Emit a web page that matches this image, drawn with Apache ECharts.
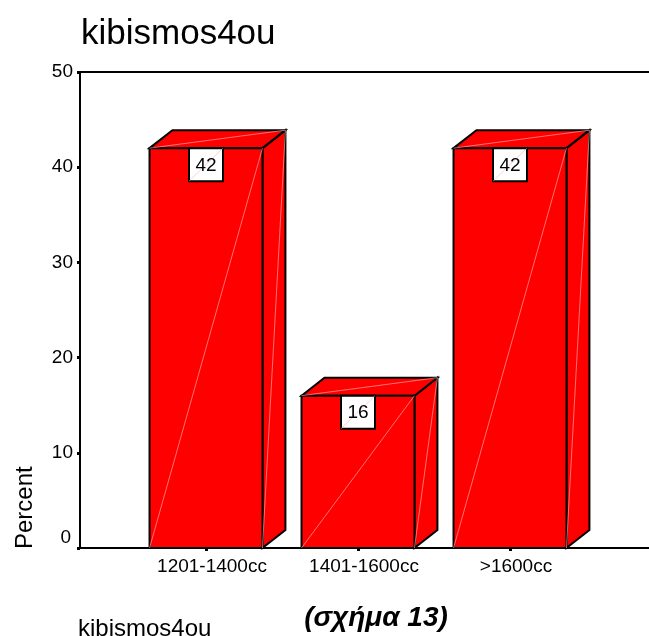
<!DOCTYPE html>
<html>
<head>
<meta charset="utf-8">
<script src="https://cdn.jsdelivr.net/npm/echarts@6/dist/echarts.min.js"></script>
<style>
  html, body { margin: 0; padding: 0; background: #fff; }
  #chart { width: 649px; height: 636px; }
</style>
</head>
<body>
<div id="chart"></div>
<script>
// Engine size groups and the share of cars in each (percent)
var categories = ['1201-1400cc', '1401-1600cc', '>1600cc'];
var percents = [42, 16, 42];
var yTicks = [0, 10, 20, 30, 40, 50];

var FONT = 'Liberation Sans, Arial, sans-serif';
var chart = echarts.init(document.getElementById('chart'), null, { renderer: 'canvas' });

// Draws one extruded bar: front face, top face, side face, value box.
function renderBar(params, api) {
  var idx = api.value(0);
  var val = api.value(1);
  var top = api.coord([idx, val]);
  var base = api.coord([idx, 0]);
  var band = api.size([1, 0])[0];
  var w = band * 0.743;
  var dx = band * 0.151;
  var dy = 18;
  var x0 = top[0] - w / 2, x1 = top[0] + w / 2;
  var yt = top[1], yb = base[1];
  var edge = { fill: '#ff0000', stroke: '#000', lineWidth: 2, lineJoin: 'miter' };
  var faint = { stroke: 'rgba(255,190,190,0.75)', lineWidth: 0.8, fill: null };
  var boxW = 34, boxH = 33;
  return {
    type: 'group',
    children: [
      { type: 'polygon', shape: { points: [[x1, yt], [x1 + dx, yt - dy], [x1 + dx, yb - dy], [x1, yb]] }, style: edge },
      { type: 'polygon', shape: { points: [[x0, yt], [x0 + dx, yt - dy], [x1 + dx, yt - dy], [x1, yt]] }, style: edge },
      { type: 'rect', shape: { x: x0, y: yt, width: w, height: yb - yt }, style: edge },
      { type: 'line', shape: { x1: x0, y1: yb, x2: x1, y2: yt }, style: faint },
      { type: 'line', shape: { x1: x1, y1: yb, x2: x1 + dx, y2: yt - dy }, style: faint },
      { type: 'line', shape: { x1: x0, y1: yt, x2: x1 + dx, y2: yt - dy }, style: faint },
      { type: 'rect', shape: { x: top[0] - boxW / 2, y: yt, width: boxW, height: boxH },
        style: { fill: '#fff', stroke: '#000', lineWidth: 2 } },
      { type: 'line', shape: { x1: top[0] - boxW / 2, y1: yt + boxH, x2: top[0] + boxW / 2, y2: yt },
        style: { stroke: 'rgba(255,170,170,0.7)', lineWidth: 0.8 } },
      { type: 'text', style: { x: top[0], y: yt + boxH / 2 + 1, text: String(val), fill: '#000',
        font: '19px ' + FONT, align: 'center', verticalAlign: 'middle' } }
    ]
  };
}

var option = {
  animation: false,
  backgroundColor: '#fff',
  title: {
    text: 'kibismos4ou', left: 76, top: 12,
    textStyle: { fontFamily: FONT, fontSize: 35, fontWeight: 'normal', color: '#000' }
  },
  grid: [
    { left: 130, right: 63, top: 72, bottom: 88 },
    { left: 80, right: 0, top: 72, bottom: 88 }
  ],
  xAxis: [
    {
      gridIndex: 0, type: 'category', data: categories,
      axisLine: { show: false },
      axisTick: { show: true, alignWithLabel: true, length: 3, lineStyle: { color: '#000', width: 3 } },
      axisLabel: { color: '#000', fontFamily: FONT, fontSize: 19, margin: 9, padding: [0, 0, 0, 12] }
    },
    {
      gridIndex: 1, type: 'value', min: 0, max: 1, position: 'bottom',
      axisLine: { show: true, lineStyle: { color: '#000', width: 2 } },
      axisTick: { show: false }, axisLabel: { show: false }, splitLine: { show: false }
    },
    {
      gridIndex: 1, type: 'value', min: 0, max: 1, position: 'top',
      axisLine: { show: true, lineStyle: { color: '#000', width: 2 } },
      axisTick: { show: false }, axisLabel: { show: false }, splitLine: { show: false }
    }
  ],
  yAxis: [
    { gridIndex: 0, type: 'value', min: 0, max: 50, show: false },
    {
      gridIndex: 1, type: 'value', min: yTicks[0], max: yTicks[yTicks.length - 1], interval: 10,
      axisLine: { show: true, lineStyle: { color: '#000', width: 2 } },
      axisTick: { show: true, length: 3, lineStyle: { color: '#000', width: 3 } },
      axisLabel: {
        color: '#000', fontFamily: FONT, fontSize: 19, margin: 7,
        // the zero label sits a little above its tick
        formatter: function (v) { return v === 0 ? '{z|0}' : String(v); },
        rich: { z: { color: '#000', fontFamily: FONT, fontSize: 19, padding: [0, 2, 20, 0] } }
      },
      splitLine: { show: false }
    }
  ],
  series: [
    {
      type: 'custom', xAxisIndex: 0, yAxisIndex: 0,
      renderItem: renderBar,
      data: percents.map(function (v, i) { return [i, v]; })
    }
  ],
  graphic: [
    { type: 'text', x: 37, y: 549, rotation: Math.PI / 2,
      style: { text: 'Percent', font: '24px ' + FONT, fill: '#000', align: 'left', verticalAlign: 'bottom' } },
    { type: 'text', x: 78, y: 617,
      style: { text: 'kibismos4ou', font: '24px ' + FONT, fill: '#000', align: 'left', verticalAlign: 'top' } },
    { type: 'text', x: 376, y: 604,
      style: { text: '(σχήμα 13)', font: 'italic bold 28px ' + FONT, fill: '#000', align: 'center', verticalAlign: 'top' } }
  ]
};

chart.setOption(option);
</script>
</body>
</html>
